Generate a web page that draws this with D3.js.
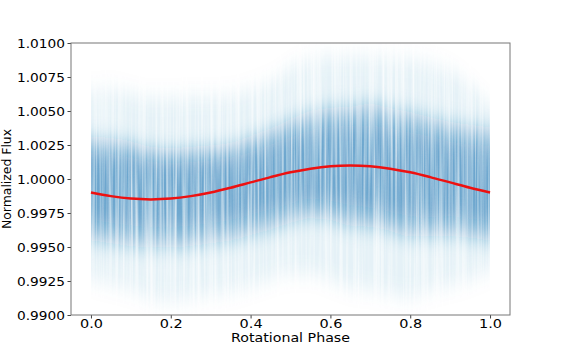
<!DOCTYPE html>
<html>
<head>
<meta charset="utf-8">
<script src="https://cdn.jsdelivr.net/npm/d3@7"></script>
<style>
  body { margin: 0; background: #fff; }
  text { font-family: "DejaVu Sans", sans-serif; }
</style>
</head>
<body>
<script>
// phase bins
var phase = [0, 0.05, 0.1, 0.15, 0.2, 0.25, 0.3, 0.35, 0.4, 0.45, 0.5,
             0.55, 0.6, 0.65, 0.7, 0.75, 0.8, 0.85, 0.9, 0.95, 1.0];
// faint outer extent of the cloud
var outerHi = [1.0065, 1.0066, 1.0063, 1.0060, 1.0060, 1.0061, 1.0061, 1.0062, 1.0066, 1.0072, 1.0082,
               1.0088, 1.0090, 1.0090, 1.0090, 1.0089, 1.0088, 1.0085, 1.0080, 1.0070, 1.0055];
var outerLo = [0.9926, 0.9922, 0.9918, 0.9912, 0.9910, 0.9912, 0.9915, 0.9917, 0.9921, 0.9926, 0.9930,
               0.9930, 0.9925, 0.9920, 0.9918, 0.9915, 0.9913, 0.9918, 0.9922, 0.9926, 0.9932];
// main body of the cloud
var coreHi = [1.0030, 1.0029, 1.0026, 1.0022, 1.0021, 1.0022, 1.0023, 1.0025, 1.0030, 1.0036, 1.0043,
              1.0049, 1.0052, 1.0053, 1.0055, 1.0052, 1.0049, 1.0045, 1.0041, 1.0039, 1.0037];
var coreLo = [0.9955, 0.9953, 0.9951, 0.9950, 0.9950, 0.9951, 0.9953, 0.9955, 0.9959, 0.9963, 0.9968,
              0.9972, 0.9970, 0.9966, 0.9965, 0.9962, 0.9958, 0.9958, 0.9959, 0.9957, 0.9955];
// densest part
var innerHi = [1.0020, 1.0019, 1.0017, 1.0014, 1.0013, 1.0014, 1.0015, 1.0017, 1.0021, 1.0026, 1.0031,
               1.0036, 1.0038, 1.0039, 1.0039, 1.0037, 1.0034, 1.0031, 1.0028, 1.0026, 1.0025];
var innerLo = [0.9970, 0.9968, 0.9966, 0.9965, 0.9965, 0.9966, 0.9968, 0.9970, 0.9974, 0.9978, 0.9982,
               0.9985, 0.9984, 0.9981, 0.9979, 0.9976, 0.9973, 0.9972, 0.9972, 0.9971, 0.9970];
// red model curve
var model = [0.99901, 0.99874, 0.99856, 0.99850, 0.99856, 0.99874, 0.99901, 0.99936, 0.99975, 1.00014, 1.00049,
             1.00076, 1.00094, 1.00100, 1.00094, 1.00076, 1.00049, 1.00014, 0.99975, 0.99936, 0.99901];

var xTicks = [0, 0.2, 0.4, 0.6, 0.8, 1.0];
var yTicks = [0.99, 0.9925, 0.995, 0.9975, 1.0, 1.0025, 1.005, 1.0075, 1.01];

var W = 567, H = 354;
var m = {left: 71, right: 57, top: 43, bottom: 39};

var svg = d3.select("body").append("svg")
  .attr("width", W)
  .attr("height", H);

var x = d3.scaleLinear().domain([-0.05, 1.05]).range([m.left, W - m.right]);
var y = d3.scaleLinear().domain([0.99, 1.01]).range([H - m.bottom, m.top]);

var defs = svg.append("defs");
var f = defs.append("filter").attr("id", "soft")
  .attr("filterUnits", "userSpaceOnUse")
  .attr("x", 0).attr("y", 0).attr("width", W).attr("height", H);
f.append("feGaussianBlur").attr("in", "SourceGraphic")
  .attr("stdDeviation", "0.5 10").attr("result", "blur");
// vertical streaks like the overplotted points
f.append("feTurbulence").attr("type", "fractalNoise")
  .attr("baseFrequency", "0.45 0.006").attr("numOctaves", 2).attr("seed", 7)
  .attr("result", "noise");
f.append("feColorMatrix").attr("in", "noise").attr("type", "matrix")
  .attr("values", "0 0 0 0 0  0 0 0 0 0  0 0 0 0 0  1.4 0 0 0 0.08")
  .attr("result", "mask");
f.append("feComposite").attr("in", "blur").attr("in2", "mask").attr("operator", "in");

defs.append("clipPath").attr("id", "clip")
  .append("rect")
  .attr("x", x(0)).attr("y", m.top)
  .attr("width", x(1) - x(0)).attr("height", y(0.99) - m.top);

function band(hi, lo) {
  return d3.area()
    .x(function(d, i) { return x(phase[i]); })
    .y0(function(d, i) { return y(lo[i]); })
    .y1(function(d, i) { return y(hi[i]); })
    .curve(d3.curveMonotoneX)(phase);
}

var cloud = svg.append("g").attr("clip-path", "url(#clip)")
  .append("g").attr("filter", "url(#soft)");

cloud.append("path").attr("d", band(outerHi, outerLo))
  .attr("fill", "#1f77b4").attr("fill-opacity", 0.1);
cloud.append("path").attr("d", band(coreHi, coreLo))
  .attr("fill", "#1f77b4").attr("fill-opacity", 0.4);
cloud.append("path").attr("d", band(innerHi, innerLo))
  .attr("fill", "#1f77b4").attr("fill-opacity", 0.35);

// model
var line = d3.line()
  .x(function(d, i) { return x(phase[i]); })
  .y(function(d) { return y(d); })
  .curve(d3.curveCatmullRom);

svg.append("path")
  .attr("d", line(model))
  .attr("fill", "none")
  .attr("stroke", "#ee1111")
  .attr("stroke-width", 2.5);

// axes
var xAxis = svg.append("g")
  .attr("transform", "translate(0," + (H - m.bottom) + ")")
  .call(d3.axisBottom(x).tickValues(xTicks).tickFormat(d3.format(".1f")).tickSizeOuter(0).tickSize(3.5));
var yAxis = svg.append("g")
  .attr("transform", "translate(" + m.left + ",0)")
  .call(d3.axisLeft(y).tickValues(yTicks).tickFormat(d3.format(".4f")).tickSizeOuter(0).tickSize(3.5));

[xAxis, yAxis].forEach(function(a) {
  a.select(".domain").remove();
  a.selectAll("line").attr("stroke", "#444");
  a.selectAll("text").attr("font-size", 13).attr("fill", "#000")
    .attr("font-family", "DejaVu Sans")
    .attr("lengthAdjust", "spacingAndGlyphs");
});
xAxis.selectAll("text").attr("textLength", 23).attr("y", 3.5);
yAxis.selectAll("text").attr("textLength", 48).attr("x", -6);

// frame
svg.append("rect")
  .attr("x", m.left).attr("y", m.top)
  .attr("width", W - m.right - m.left).attr("height", H - m.bottom - m.top)
  .attr("fill", "none")
  .attr("stroke", "#777")
  .attr("stroke-width", 1);

svg.append("text")
  .attr("x", (x(0) + x(1)) / 2)
  .attr("y", 342)
  .attr("text-anchor", "middle")
  .attr("font-size", 12)
  .attr("textLength", 119)
  .attr("lengthAdjust", "spacingAndGlyphs")
  .text("Rotational Phase");

svg.append("text")
  .attr("transform", "translate(11," + ((m.top + H - m.bottom) / 2) + ") rotate(-90)")
  .attr("text-anchor", "middle")
  .attr("font-size", 12)
  .attr("textLength", 100)
  .attr("lengthAdjust", "spacingAndGlyphs")
  .text("Normalized Flux");
</script>
</body>
</html>
